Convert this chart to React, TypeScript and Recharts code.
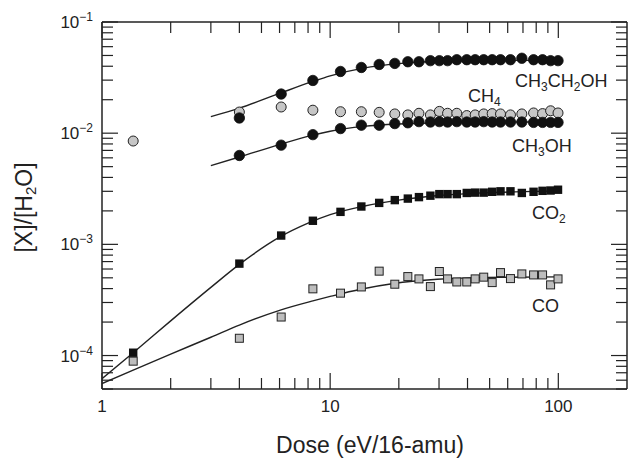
import React from 'react';
import { ComposedChart, XAxis, YAxis, Line, Scatter } from 'recharts';

const FONT = '"Liberation Sans", Arial, Helvetica, sans-serif';
const INK = '#222';

// dose values shared by all measured series (eV/16-amu)
const dose = [1.37, 4.0, 6.1, 8.4, 11.1, 13.7, 16.4, 19.2, 21.9, 24.5, 27.5, 30.1, 32.7, 35.9, 39.7, 43.2, 47.1, 51.3, 55.8, 61.7, 69.2, 77.9, 85.3, 92.5, 99.7];

const ch3ch2oh = [null, 0.0137, 0.0225, 0.0298, 0.0359, 0.039, 0.0415, 0.0424, 0.0439, 0.0439, 0.0449, 0.0449, 0.0449, 0.0458, 0.0458, 0.0458, 0.0458, 0.0458, 0.0458, 0.0458, 0.0472, 0.0458, 0.0458, 0.0449, 0.0449];
const ch4 = [0.0085, 0.0155, 0.0172, 0.0161, 0.0156, 0.0156, 0.0154, 0.0149, 0.0146, 0.0151, 0.0146, 0.0157, 0.0151, 0.0151, 0.0144, 0.0146, 0.0149, 0.015, 0.0149, 0.0146, 0.0149, 0.0152, 0.015, 0.0159, 0.0152];
const ch3oh = [null, 0.0063, 0.0078, 0.0097, 0.011, 0.0118, 0.0118, 0.0122, 0.0124, 0.0127, 0.0126, 0.0127, 0.0126, 0.0127, 0.0126, 0.0126, 0.0127, 0.0126, 0.0126, 0.0126, 0.0126, 0.0125, 0.0125, 0.0125, 0.0125];
const co2 = [1.06e-4, 6.71e-4, 1.2e-3, 1.63e-3, 1.96e-3, 2.19e-3, 2.36e-3, 2.5e-3, 2.58e-3, 2.66e-3, 2.74e-3, 2.83e-3, 2.83e-3, 2.83e-3, 2.9e-3, 2.92e-3, 2.92e-3, 2.97e-3, 3.0e-3, 3.0e-3, 2.9e-3, 2.97e-3, 3.03e-3, 3.05e-3, 3.1e-3];
const co = [8.9e-5, 1.43e-4, 2.22e-4, 3.98e-4, 3.64e-4, 4.14e-4, 5.74e-4, 4.38e-4, 5.13e-4, 4.89e-4, 4.17e-4, 5.7e-4, 4.89e-4, 4.59e-4, 4.59e-4, 4.89e-4, 5.07e-4, 4.53e-4, 5.57e-4, 4.92e-4, 5.42e-4, 5.31e-4, 5.31e-4, 4.32e-4, 4.89e-4];

// fitted curves
const ch3ch2ohFitX = [3, 4, 6, 8.4, 10, 14, 20, 30, 50, 100];
const ch3ch2ohFitY = [0.0141, 0.0168, 0.0228, 0.0292, 0.0328, 0.0385, 0.0422, 0.0443, 0.0451, 0.0453];
const ch3ohFitX = [3, 4, 6, 8.4, 10, 14, 20, 30, 50, 100];
const ch3ohFitY = [0.0051, 0.0061, 0.0079, 0.0096, 0.0104, 0.0115, 0.0121, 0.0124, 0.0126, 0.0126];
const co2FitX = [1, 1.37, 2, 3, 4, 6, 8, 10, 14, 20, 30, 50, 70, 100];
const co2FitY = [6.2e-5, 1.06e-4, 2.05e-4, 4.1e-4, 6.6e-4, 1.16e-3, 1.55e-3, 1.85e-3, 2.2e-3, 2.5e-3, 2.75e-3, 2.92e-3, 2.98e-3, 3.02e-3];
const coFitX = [1, 1.37, 2, 3, 4, 6, 8.4, 10, 13.6, 19, 29.5, 49, 100];
const coFitY = [5.6e-5, 7.4e-5, 1.03e-4, 1.46e-4, 1.88e-4, 2.55e-4, 3.1e-4, 3.4e-4, 3.95e-4, 4.45e-4, 4.85e-4, 5.05e-4, 5.1e-4];

const xMajor = [1, 10, 100];
const xMinorMult = [2, 3, 4, 5, 6, 7, 8, 9];
const yMajor = [1e-4, 1e-3, 1e-2, 1e-1];
const yMinorMult = [2, 3, 4, 5, 6, 7, 8, 9];

const xTicks = [...xMajor, ...[1, 10].flatMap(d => xMinorMult.map(m => m * d))].sort((a, b) => a - b);
const yTicks = [
  ...yMajor,
  ...[1e-5, 1e-4, 1e-3, 1e-2].flatMap(d => yMinorMult.map(m => Number((m * d).toPrecision(3)))),
].filter(v => v >= 5e-5 && v <= 0.1).sort((a, b) => a - b);

const pts = (xs: number[], ys: (number | null)[]) =>
  xs.map((x, i) => ({ x, y: ys[i] })).filter(p => p.y != null);

const isMajor = (v: number) => Math.abs(Math.log10(v) - Math.round(Math.log10(v))) < 1e-6;

const blackDot = (p: any) => <circle cx={p.cx} cy={p.cy} r={5.2} fill="#111" stroke="#111" strokeWidth={0.8} />;
const grayDot = (p: any) => <circle cx={p.cx} cy={p.cy} r={5} fill="#c6c6c6" stroke={INK} strokeWidth={1} />;
const blackSq = (p: any) => <rect x={p.cx - 4.2} y={p.cy - 4.2} width={8.4} height={8.4} fill="#111" />;
const graySq = (p: any) => <rect x={p.cx - 4} y={p.cy - 4} width={8} height={8} fill="#bdbdbd" stroke={INK} strokeWidth={1} />;

const xTick = (side: 'bottom' | 'top') => (props: any) => {
  const { x, y, payload } = props;
  const v = payload.value;
  const major = isMajor(v);
  const len = major ? 16 : 11;
  const dir = side === 'bottom' ? -1 : 1;
  return (
    <g>
      <line x1={x} x2={x} y1={y} y2={y + dir * len} stroke={INK} strokeWidth={1.2} />
      {side === 'bottom' && major && (
        <text x={x} y={y + 23} textAnchor="middle" fontSize={17} fill={INK} fontFamily={FONT}>{v}</text>
      )}
    </g>
  );
};

const yTick = (side: 'left' | 'right') => (props: any) => {
  const { x, y, payload } = props;
  const v = payload.value;
  const major = isMajor(v);
  const len = major ? 16 : 11;
  const dir = side === 'left' ? 1 : -1;
  const exp = Math.round(Math.log10(v));
  return (
    <g>
      <line x1={x} x2={x + dir * len} y1={y} y2={y} stroke={INK} strokeWidth={1.2} />
      {side === 'left' && major && (
        <text x={x - 9} y={y + 6} textAnchor="end" fill={INK} fontFamily={FONT}>
          <tspan fontSize={17}>10</tspan>
          <tspan fontSize={12} dy={-7}>{'\u2212' + Math.abs(exp)}</tspan>
        </text>
      )}
    </g>
  );
};

const axisLine = { stroke: INK, strokeWidth: 1.5 };

const labelStyle = (left: number, top: number): React.CSSProperties => ({
  position: 'absolute', left, top, fontSize: 18, lineHeight: '18px', color: INK, whiteSpace: 'nowrap',
});
const sub: React.CSSProperties = { fontSize: 12, verticalAlign: -4, lineHeight: 0 };

export default function App() {
  return (
    <div style={{ position: 'absolute', left: 0, top: 0, width: 629, height: 458, background: '#fff', fontFamily: FONT }}>
      <ComposedChart width={629} height={458} margin={{ top: 21, right: 1, bottom: 68, left: 101 }}>
        <XAxis xAxisId="b" dataKey="x" type="number" scale="log" domain={[1, 200]} allowDataOverflow
          ticks={xTicks} interval={0} height={1} tickSize={0} tickMargin={0} tickLine={false}
          axisLine={axisLine} tick={xTick('bottom')} />
        <XAxis xAxisId="t" orientation="top" dataKey="x" type="number" scale="log" domain={[1, 200]} allowDataOverflow
          ticks={xTicks} interval={0} height={1} tickSize={0} tickMargin={0} tickLine={false}
          axisLine={axisLine} tick={xTick('top')} />
        <YAxis yAxisId="l" dataKey="y" type="number" scale="log" domain={[5e-5, 0.1]} allowDataOverflow
          ticks={yTicks} interval={0} width={1} tickSize={0} tickMargin={0} tickLine={false}
          axisLine={axisLine} tick={yTick('left')} />
        <YAxis yAxisId="r" orientation="right" dataKey="y" type="number" scale="log" domain={[5e-5, 0.1]} allowDataOverflow
          ticks={yTicks} interval={0} width={1} tickSize={0} tickMargin={0} tickLine={false}
          axisLine={axisLine} tick={yTick('right')} />

        <Line xAxisId="b" yAxisId="l" data={pts(ch3ch2ohFitX, ch3ch2ohFitY)} dataKey="y" type="monotone" dot={false} activeDot={false} stroke={INK} strokeWidth={1.4} isAnimationActive={false} />
        <Line xAxisId="b" yAxisId="l" data={pts(ch3ohFitX, ch3ohFitY)} dataKey="y" type="monotone" dot={false} activeDot={false} stroke={INK} strokeWidth={1.4} isAnimationActive={false} />
        <Line xAxisId="b" yAxisId="l" data={pts(co2FitX, co2FitY)} dataKey="y" type="monotone" dot={false} activeDot={false} stroke={INK} strokeWidth={1.4} isAnimationActive={false} />
        <Line xAxisId="b" yAxisId="l" data={pts(coFitX, coFitY)} dataKey="y" type="monotone" dot={false} activeDot={false} stroke={INK} strokeWidth={1.4} isAnimationActive={false} />

        <Scatter xAxisId="b" yAxisId="l" data={pts(dose, ch4)} dataKey="y" shape={grayDot} isAnimationActive={false} />
        <Scatter xAxisId="b" yAxisId="l" data={pts(dose, ch3oh)} dataKey="y" shape={blackDot} isAnimationActive={false} />
        <Scatter xAxisId="b" yAxisId="l" data={pts(dose, ch3ch2oh)} dataKey="y" shape={blackDot} isAnimationActive={false} />
        <Scatter xAxisId="b" yAxisId="l" data={pts(dose, co2)} dataKey="y" shape={blackSq} isAnimationActive={false} />
        <Scatter xAxisId="b" yAxisId="l" data={pts(dose, co)} dataKey="y" shape={graySq} isAnimationActive={false} />
      </ComposedChart>

      <div style={labelStyle(515, 72)}>CH<span style={sub}>3</span>CH<span style={sub}>2</span>OH</div>
      <div style={labelStyle(468, 87)}>CH<span style={sub}>4</span></div>
      <div style={labelStyle(512, 137)}>CH<span style={sub}>3</span>OH</div>
      <div style={labelStyle(532, 204)}>CO<span style={sub}>2</span></div>
      <div style={labelStyle(532, 297)}>CO</div>

      <div style={{ position: 'absolute', left: 220, width: 300, top: 434, textAlign: 'center', fontSize: 23, lineHeight: '23px', color: INK }}>
        Dose (eV/16-amu)
      </div>
      <div style={{ position: 'absolute', left: 24 - 100, top: 207 - 11.5, width: 200, height: 23, textAlign: 'center', fontSize: 23, lineHeight: '23px', color: INK, transform: 'rotate(-90deg)' }}>
        [X]/[H<span style={{ fontSize: 15, verticalAlign: -4, lineHeight: 0 }}>2</span>O]
      </div>
    </div>
  );
}
